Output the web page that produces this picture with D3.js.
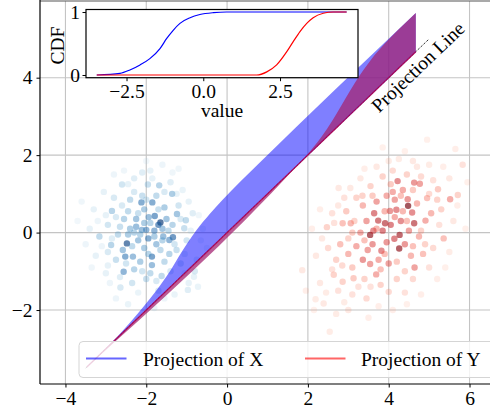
<!DOCTYPE html>
<html>
<head>
<meta charset="utf-8">
<script src="https://cdn.jsdelivr.net/npm/d3@7"></script>
<style>
  body { margin: 0; background: #fff; }
  svg { display: block; }
  svg text { font-family: "Liberation Serif", "Times New Roman", serif; }
</style>
</head>
<body>
<script>
// tick labels
const xTicks = [-4, -2, 0, 2, 4, 6];
const yTicks = [-2, 0, 2, 4];
const insetXTicks = [-2.5, 0, 2.5];
const insetYTicks = [0, 1];

const blueCdfT = [-3.47, -2.71, -2.39, -2.06, -1.74, -1.41, -1.19, -0.98, -0.76, -0.43, -0.11, 0.33, 0.76, 4.67];
const blueCdfV = [0, 0.026, 0.08, 0.16, 0.26, 0.42, 0.58, 0.71, 0.82, 0.91, 0.96, 0.99, 1, 1];
const redCdfT = [-3.47, 1.74, 2.07, 2.39, 2.72, 2.93, 3.15, 3.37, 3.58, 3.91, 4.23, 4.67];
const redCdfV = [0, 0, 0.05, 0.16, 0.37, 0.53, 0.69, 0.82, 0.91, 0.98, 1, 1];

// scatter samples [x, y, density]
const blueX = [
  [-1.65,0.26,0.95],[-1.70,0.20,0.8],[-2.48,-0.28,0.9],[-1.34,-0.12,0.8],[-1.86,-0.62,0.75],
  [-2.12,0.78,0.7],[-1.85,0.78,0.7],[-2.56,-1.01,0.65],[-2.52,-0.62,0.7],[-2.33,-0.62,0.6],
  [-1.79,0.43,0.75],[-1.94,0.40,0.6],[-2.00,0.07,0.65],[-2.11,0.07,0.6],[-1.43,-0.19,0.65],
  [-1.58,-0.10,0.6],[-1.24,0.48,0.55],[-1.36,1.00,0.5],[-1.68,1.22,0.45],[-1.96,1.24,0.35],
  [-2.60,1.24,0.3],[-2.85,0.56,0.45],[-3.16,-0.10,0.4],[-2.87,-0.32,0.45],[-1.02,0.32,0.4],
  [-1.06,0.11,0.35],[-1.43,-0.55,0.45],[-1.62,-1.12,0.4],[-2.64,-1.42,0.25],[-1.86,-0.84,0.6],
  [-2.25,0.35,0.55],[-2.40,0.10,0.5],[-2.20,-0.20,0.55],[-1.75,-0.30,0.55],[-2.05,-0.40,0.5],
  [-2.30,-0.95,0.45],[-2.70,-0.05,0.4],[-2.55,0.35,0.45],[-1.55,0.65,0.5],[-2.40,0.85,0.4],
  [-1.50,0.35,0.55],[-2.05,0.60,0.5],[-2.75,-0.70,0.35],[-1.25,-0.45,0.35],[-1.15,-0.80,0.3],
  [-2.00,-1.20,0.35],[-2.35,-1.30,0.3],[-1.70,-1.50,0.25],[-2.95,0.20,0.3],[-2.10,1.55,0.2],
  [-1.90,1.60,0.15],[-2.30,1.40,0.2],[-1.40,1.30,0.2],[-3.05,1.05,0.15],[-3.30,0.60,0.15],
  [-3.40,0.10,0.15],[-3.25,-0.60,0.15],[-3.00,-1.05,0.15],[-2.75,-1.70,0.1],[-2.45,-1.85,0.12],
  [-1.80,-1.95,0.1],[-1.30,-1.60,0.12],[-0.95,-1.30,0.15],[-0.80,-1.00,0.25],[-0.75,-0.70,0.2],
  [-0.95,0.80,0.15],[-1.10,1.10,0.12],[-0.85,0.50,0.2],[-1.00,-0.20,0.3],[-3.50,-0.30,0.1],
  [-3.60,0.80,0.08],[-2.80,1.50,0.1],[-1.60,1.75,0.1],[-1.20,1.65,0.08],[-0.60,0.10,0.12],
  [-0.50,-0.40,0.1],[-0.72,-1.40,0.12],[-0.82,-1.14,0.15],[-0.97,-1.48,0.2],[-2.58,-0.45,0.55],
  [-2.15,-0.75,0.5],[-1.95,-0.15,0.7],[-1.80,0.05,0.65],[-2.25,0.15,0.6],[-1.60,0.10,0.55],
  [-2.45,0.55,0.4],[-1.35,0.20,0.45],[-2.65,0.15,0.35],[-1.90,-1.05,0.4],[-1.55,-0.75,0.4],
  [-2.45,-0.05,0.5],[-2.10,0.95,0.35],[-1.75,0.95,0.4],[-2.80,0.90,0.25],[-2.95,-0.50,0.25],
  [-1.20,0.70,0.3],
  [-2.20,0.50,0.35],[-1.90,0.25,0.45],[-2.35,-0.35,0.4],[-1.65,-0.45,0.4],[-2.60,0.70,0.25],
  [-1.45,0.05,0.4],[-2.15,-0.05,0.45],[-2.75,0.40,0.25],[-1.30,-0.30,0.3],[-2.50,-0.80,0.3],
  [-1.70,0.60,0.35],[-2.00,0.85,0.3],[-2.30,1.05,0.25],[-1.55,1.05,0.25],[-1.15,0.35,0.25],
  [-2.85,-0.15,0.2],[-2.10,-1.00,0.3],[-1.75,-1.25,0.25],[-1.40,-1.00,0.25],[-2.65,-1.15,0.2],
  [-3.00,0.45,0.15],[-2.95,-0.85,0.15],[-1.05,-0.55,0.2],[-0.90,0.05,0.15],[-2.45,1.25,0.15],
  [-1.85,1.40,0.15],[-1.25,1.00,0.15],[-3.20,0.30,0.1],[-3.10,-0.35,0.1],[-2.20,-1.55,0.12],
  [-1.55,-1.70,0.1],[-1.05,-1.05,0.15],[-2.90,-1.30,0.1],[-3.35,-0.90,0.08],[-2.55,1.60,0.08],
  [-1.35,1.55,0.08],[-0.70,0.45,0.08],[-0.65,-0.20,0.1],[-3.70,0.30,0.06],[-2.00,1.85,0.06],
  [-1.95,-0.55,0.45],[-1.60,-0.20,0.45],[-2.30,0.00,0.45],[-2.05,0.25,0.5],[-1.80,-0.10,0.5]
];
const redY = [
  [4.48,0.69,0.95],[3.54,-0.06,0.9],[4.26,-0.41,0.9],[4.27,-0.06,0.85],[4.63,0.24,0.8],
  [3.91,0.24,0.8],[3.74,0.31,0.75],[3.64,0.50,0.7],[4.22,1.33,0.65],[4.63,1.29,0.6],
  [4.77,1.26,0.55],[4.58,0.52,0.65],[4.47,0.86,0.6],[4.14,-0.16,0.7],[4.19,0.59,0.65],
  [4.03,0.56,0.6],[3.82,-0.47,0.65],[3.36,-0.70,0.6],[3.54,-0.81,0.55],[3.69,-1.08,0.5],
  [4.64,-0.90,0.55],[5.52,0.86,0.5],[3.06,0.24,0.45],[2.86,0.24,0.4],[2.47,0.14,0.3],
  [3.36,0.70,0.45],[4.91,0.31,0.5],[5.05,0.50,0.45],[5.36,-0.15,0.4],[4.95,0.89,0.4],
  [5.22,1.12,0.35],[5.71,0.97,0.3],[5.83,1.75,0.2],[5.65,2.16,0.1],[2.54,-2.56,0.12],
  [2.39,-1.83,0.15],[2.19,-1.72,0.12],[1.86,-0.97,0.15],[2.76,1.15,0.15],[2.64,-1.09,0.3],
  [2.86,-1.27,0.3],[3.45,-1.70,0.25],[4.00,-1.53,0.25],[4.40,-1.55,0.2],[3.13,-1.18,0.35],
  [3.30,0.00,0.5],[3.45,0.30,0.55],[3.20,-0.35,0.5],[3.00,-0.55,0.45],[2.80,-0.30,0.4],
  [3.70,0.80,0.55],[3.95,0.95,0.5],[4.10,1.05,0.5],[4.35,1.10,0.5],[4.00,-0.80,0.55],
  [4.40,-0.30,0.6],[4.50,0.05,0.55],[4.75,-0.10,0.45],[4.85,-0.55,0.4],[3.85,0.05,0.7],
  [4.05,0.20,0.7],[3.60,-0.30,0.6],[2.95,0.55,0.35],[3.20,0.90,0.3],[3.55,1.20,0.3],
  [3.85,1.45,0.3],[4.10,1.60,0.25],[4.45,1.50,0.3],[4.80,1.45,0.25],[5.10,1.35,0.2],
  [5.30,0.60,0.3],[5.10,-0.40,0.25],[5.00,-0.90,0.2],[4.60,-1.20,0.25],[4.20,-1.20,0.3],
  [3.80,-1.35,0.3],[3.40,-1.20,0.3],[3.10,-0.90,0.35],[2.70,-0.70,0.3],[2.50,-0.40,0.25],
  [2.60,0.50,0.2],[2.90,0.90,0.2],[3.30,1.40,0.15],[3.70,1.70,0.15],[4.25,1.90,0.12],
  [4.60,1.85,0.15],[5.00,1.75,0.12],[5.50,1.40,0.15],[5.60,0.30,0.15],[5.50,-0.50,0.12],
  [5.20,-1.20,0.1],[4.80,-1.60,0.1],[3.10,-1.60,0.2],[2.75,-1.50,0.2],[2.30,-1.30,0.15],
  [2.20,-0.60,0.15],[2.10,0.10,0.1],[2.30,0.60,0.1],[3.00,-2.00,0.15],[3.50,-2.20,0.1],
  [4.10,-2.00,0.1],[2.70,-2.10,0.12],[1.95,-1.50,0.1],[3.85,2.20,0.08],[4.95,2.40,0.08],
  [5.90,0.10,0.08],[3.62,0.05,0.65],[4.30,0.30,0.65],[3.95,-0.25,0.6],[4.15,0.85,0.55],
  [3.48,-0.45,0.55],[3.75,-0.70,0.5],[4.55,-0.60,0.45],[4.70,0.75,0.45],
  [3.70,0.10,0.45],[4.15,0.40,0.5],[4.35,0.55,0.45],[3.90,0.55,0.45],[3.40,-0.20,0.4],
  [3.90,-0.55,0.4],[4.20,-0.75,0.35],[4.45,0.30,0.4],[3.60,0.95,0.35],[4.30,0.95,0.4],
  [3.15,0.30,0.3],[3.00,-0.15,0.3],[2.85,-0.85,0.25],[3.55,-1.40,0.2],[4.80,0.05,0.3],
  [5.00,1.00,0.25],[4.60,1.10,0.35],[4.90,-0.30,0.3],[5.25,0.20,0.2],[3.25,-1.40,0.2],
  [2.60,-0.95,0.2],[2.45,-1.55,0.12],[2.35,-0.15,0.15],[2.65,0.25,0.2],[3.05,1.15,0.15],
  [3.40,1.65,0.1],[4.00,1.85,0.12],[4.40,2.10,0.08],[5.35,1.70,0.1],[5.70,0.70,0.1],
  [5.40,-0.90,0.08],[4.45,-1.85,0.08],[3.75,-1.90,0.1],[2.90,-1.80,0.12],[2.15,-2.00,0.08],
  [5.95,1.30,0.08],[4.70,1.70,0.15],[3.10,0.00,0.35],[4.60,-0.35,0.4],[3.80,-0.95,0.4],
  [4.40,-1.00,0.3],[3.35,0.95,0.3],[2.75,0.70,0.15],[5.20,0.85,0.3],[4.05,1.25,0.35]
];

const W = 490, H = 409;
const minus = s => String(s).replace("-", "\u2212");

let svg = d3.select("body").append("svg").attr("width", W).attr("height", H);

// main axes
let x = d3.scaleLinear().domain([-4.63, 6.68]).range([40, 497]);
let y = d3.scaleLinear().domain([-3.91, 5.98]).range([384, 1]);

// grid
svg.append("g").selectAll("line").data(xTicks).enter().append("line")
    .attr("x1", d => x(d)).attr("x2", d => x(d))
    .attr("y1", y.range()[0]).attr("y2", y.range()[1])
    .attr("stroke", "#c4c4c4").attr("stroke-width", 1.1);
svg.append("g").selectAll("line").data(yTicks).enter().append("line")
    .attr("x1", x.range()[0]).attr("x2", x.range()[1])
    .attr("y1", d => y(d)).attr("y2", d => y(d))
    .attr("stroke", "#c4c4c4").attr("stroke-width", 1.1);

// scatter
svg.append("g").selectAll("circle").data(blueX).enter().append("circle")
    .attr("cx", d => x(d[0])).attr("cy", d => y(d[1])).attr("r", 3.2)
    .attr("fill", d => d3.interpolateBlues(0.35 + 0.65 * d[2]))
    .attr("fill-opacity", d => 0.1 + 0.6 * d[2]);
svg.append("g").selectAll("circle").data(redY).enter().append("circle")
    .attr("cx", d => x(d[0])).attr("cy", d => y(d[1])).attr("r", 3.2)
    .attr("fill", d => d3.interpolateReds(0.3 + 0.7 * d[2]))
    .attr("fill-opacity", d => 0.1 + 0.6 * d[2]);

// CDF bands along the projection line
let blueCdf = blueCdfT.map((t, i) => ({t, c: blueCdfV[i]}));
let redCdf = redCdfT.map((t, i) => ({t, c: redCdfV[i]}));

let band = d3.area().curve(d3.curveMonotoneX)
    .x(d => x(d.t)).y0(d => y(d.t)).y1(d => y(d.t + d.c));

svg.append("line")
    .attr("x1", x(-3.5)).attr("y1", y(-3.5)).attr("x2", x(5)).attr("y2", y(5))
    .attr("stroke", "#000").attr("stroke-width", 0.8).attr("stroke-dasharray", "2.5,1.5");

svg.append("path").datum(blueCdf).attr("d", band)
    .attr("fill", "rgb(0,0,255)").attr("fill-opacity", 0.5);
svg.append("path").datum(redCdf).attr("d", band)
    .attr("fill", "rgb(164,38,115)").attr("fill-opacity", 0.75);

let diag = d3.line().x(d => x(d.t)).y(d => y(d.t));
svg.append("path").datum(blueCdf).attr("d", diag)
    .attr("fill", "none").attr("stroke", "blue").attr("stroke-opacity", 0.6).attr("stroke-width", 1.2);
svg.append("path").datum(redCdf).attr("d", diag)
    .attr("fill", "none").attr("stroke", "red").attr("stroke-opacity", 0.6).attr("stroke-width", 1.2);

svg.append("text")
    .attr("transform", "translate(418,67) rotate(-43.8)")
    .attr("text-anchor", "middle").attr("dominant-baseline", "central")
    .style("font-size", "19.5px").text("Projection Line");

// spines + ticks
svg.append("line").attr("x1", 40).attr("x2", 497).attr("y1", 1).attr("y2", 1).attr("stroke", "#555").attr("stroke-width", 1.2);
svg.append("line").attr("x1", 40).attr("x2", 40).attr("y1", 0).attr("y2", 384).attr("stroke", "#000").attr("stroke-width", 1.2);
svg.append("line").attr("x1", 40).attr("x2", 497).attr("y1", 384).attr("y2", 384).attr("stroke", "#000").attr("stroke-width", 1.2);

let xAxis = svg.append("g").attr("transform", "translate(0,384)")
    .call(d3.axisBottom(x).tickValues(xTicks).tickSize(3.5).tickPadding(3.5).tickFormat(minus));
let yAxis = svg.append("g").attr("transform", "translate(40,0)")
    .call(d3.axisLeft(y).tickValues(yTicks).tickSize(3.5).tickPadding(4).tickFormat(minus));
[xAxis, yAxis].forEach(a => {
  a.attr("font-family", null).attr("font-size", null);
  a.select(".domain").remove();
  a.selectAll("text").style("font-size", "19.5px").attr("fill", "#000");
  a.selectAll("line").attr("stroke", "#000");
});

// legend
let lg = svg.append("g");
lg.append("rect").attr("x", 79).attr("y", 341.5).attr("width", 420).attr("height", 36)
    .attr("rx", 4).attr("fill", "#fff").attr("fill-opacity", 0.8)
    .attr("stroke", "#d5d5d5").attr("stroke-width", 1);
lg.append("line").attr("x1", 86).attr("x2", 126.5).attr("y1", 358.5).attr("y2", 358.5)
    .attr("stroke", "blue").attr("stroke-opacity", 0.6).attr("stroke-width", 2);
lg.append("text").attr("x", 143).attr("y", 365.5).style("font-size", "19.5px").text("Projection of X");
lg.append("line").attr("x1", 305).attr("x2", 345.5).attr("y1", 358.5).attr("y2", 358.5)
    .attr("stroke", "red").attr("stroke-opacity", 0.6).attr("stroke-width", 2);
lg.append("text").attr("x", 361).attr("y", 365.5).style("font-size", "19.5px").text("Projection of Y");

// inset CDF
let ix = d3.scaleLinear().domain([-3.82, 5.04]).range([86, 358]);
let iy = d3.scaleLinear().domain([-0.043, 1.04]).range([77.7, 9.5]);
let inset = svg.append("g");
inset.append("rect").attr("x", 86).attr("y", 9.5).attr("width", 272).attr("height", 68.2)
    .attr("fill", "#fff");

let cdfLine = d3.line().curve(d3.curveMonotoneX).x(d => ix(d.t)).y(d => iy(d.c));
inset.append("path").datum(blueCdf).attr("d", cdfLine)
    .attr("fill", "none").attr("stroke", "blue").attr("stroke-width", 1.2);
inset.append("path").datum(redCdf).attr("d", cdfLine)
    .attr("fill", "none").attr("stroke", "red").attr("stroke-width", 1.2);

inset.append("rect").attr("x", 86).attr("y", 9.5).attr("width", 272).attr("height", 68.2)
    .attr("fill", "none").attr("stroke", "#000").attr("stroke-width", 1.2);

let ixAxis = inset.append("g").attr("transform", "translate(0,77.7)")
    .call(d3.axisBottom(ix).tickValues(insetXTicks).tickSize(3.5).tickPadding(3)
        .tickFormat(d => minus(d3.format(".1f")(d))));
let iyAxis = inset.append("g").attr("transform", "translate(86,0)")
    .call(d3.axisLeft(iy).tickValues(insetYTicks).tickSize(3.5).tickPadding(2.5)
        .tickFormat(d3.format("d")));
[ixAxis, iyAxis].forEach(a => {
  a.attr("font-family", null).attr("font-size", null);
  a.select(".domain").remove();
  a.selectAll("text").style("font-size", "19.5px").attr("fill", "#000");
  a.selectAll("line").attr("stroke", "#000");
});

inset.append("text").attr("x", 222).attr("y", 117).attr("text-anchor", "middle")
    .style("font-size", "19.5px").text("value");
inset.append("text").attr("transform", "translate(64,45.5) rotate(-90)")
    .attr("text-anchor", "middle").style("font-size", "19.5px").text("CDF");
</script>
</body>
</html>
